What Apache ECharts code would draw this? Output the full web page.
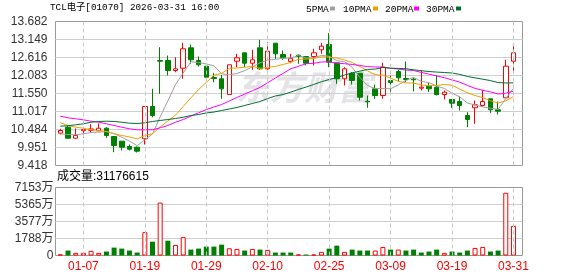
<!DOCTYPE html>
<html><head><meta charset="utf-8">
<script src="https://cdn.jsdelivr.net/npm/echarts@6/dist/echarts.min.js"></script>
<style>html,body{margin:0;padding:0;background:#fff}#c{width:578px;height:276px}</style>
</head><body><div id="c"></div>
<script>
const dates = ['01-02','01-05','01-06','01-07','01-08','01-09','01-12','01-13','01-14','01-15','01-16','01-19','01-20','01-21','01-22','01-23','01-26','01-27','01-28','01-29','01-30','02-02','02-03','02-04','02-05','02-06','02-09','02-10','02-11','02-12','02-13','02-16','02-20','02-23','02-24','02-25','02-26','02-27','03-02','03-03','03-04','03-05','03-06','03-09','03-10','03-11','03-12','03-13','03-16','03-17','03-18','03-19','03-20','03-23','03-24','03-25','03-26','03-27','03-30','03-31'];
const opens = [10.375,10.552,10.226,10.45,10.46,10.446,10.522,10.277,10.138,9.981,9.960,10.209,11.165,12.527,12.527,12.231,12.299,12.903,12.527,12.358,12.024,11.985,11.52,12.507,12.755,12.447,12.903,12.281,13.04,12.705,12.50,12.684,12.646,12.646,12.844,13.001,12.459,11.985,12.151,12.151,11.322,11.689,11.491,11.935,12.202,11.994,11.974,11.707,11.766,11.737,11.52,11.373,11.313,10.899,11.127,11.195,11.393,11.067,11.423,12.507];
const closes = [10.454,10.226,10.306,10.48,10.50,10.522,10.306,10.010,9.960,9.901,9.842,11.165,10.899,12.507,12.231,12.281,12.874,12.548,12.40,12.033,11.994,11.689,12.40,12.607,12.447,12.548,12.281,12.803,12.726,12.607,12.59,12.646,12.447,12.755,12.951,12.477,11.985,12.281,11.935,11.44,11.304,11.491,12.329,11.876,12.015,11.965,11.956,11.737,11.689,11.52,11.589,11.263,11.195,10.78,11.216,11.313,11.067,11.027,12.358,12.755];
const lows = [10.336,10.21,10.209,10.238,10.387,10.434,10.238,9.812,9.862,9.862,9.803,10.040,10.848,11.541,12.083,12.181,11.985,12.43,12.35,12.015,11.885,11.393,11.52,12.33,12.33,12.252,12.252,12.252,12.578,12.548,12.447,12.43,12.379,12.379,12.726,12.33,11.837,11.787,11.817,11.343,11.127,11.393,11.393,11.59,11.914,11.885,11.61,11.639,11.59,11.491,11.373,11.127,11.047,10.552,10.653,11.165,10.967,10.928,11.423,12.151];
const highs = [10.505,10.594,10.514,10.552,10.641,10.662,10.552,10.277,10.138,10.040,9.98,11.165,11.689,12.921,12.675,12.625,13.051,13.001,12.646,12.379,12.16,12.10,12.40,12.726,12.755,12.844,13.14,13.069,13.04,12.823,12.726,12.705,12.646,12.874,13.051,13.336,12.459,12.33,12.181,12.151,11.49,11.817,12.459,12.083,12.252,12.498,12.015,12.231,11.867,12.083,11.639,11.373,11.461,10.996,11.343,11.66,11.393,11.313,12.548,12.971];
const volumes = [1200000,5200000,2800000,2800000,4900000,2800000,4150000,8300000,7250000,5200000,3100000,24550000,14500000,55650000,15550000,11050000,19350000,6200000,7250000,9350000,9350000,11400000,7600000,6900000,5200000,6900000,6200000,5900000,3100000,3100000,3100000,1050000,1050000,1050000,3800000,7250000,10350000,3800000,6200000,5200000,5200000,5200000,9000000,6200000,6200000,5200000,6200000,3100000,4150000,6200000,2800000,4150000,3100000,5200000,7950000,9000000,4150000,5200000,66000000,31176615];
const volUp = [1,0,1,1,1,1,0,0,0,0,0,1,0,1,0,1,1,0,0,0,0,0,1,1,0,1,0,1,0,0,0,1,0,1,1,0,0,1,0,0,0,1,1,0,1,0,0,0,0,0,1,0,0,0,1,1,0,0,1,1];
const ma5 = [10.357,10.336,10.327,10.357,10.393,10.407,10.423,10.363,10.254,10.140,10.004,10.176,10.353,10.863,11.329,11.817,12.158,12.488,12.467,12.427,12.370,12.133,12.103,12.145,12.227,12.338,12.457,12.537,12.561,12.593,12.601,12.674,12.603,12.609,12.678,12.655,12.523,12.490,12.326,12.024,11.789,11.690,11.700,11.688,11.803,11.935,12.028,11.910,11.872,11.773,11.698,11.560,11.451,11.269,11.209,11.153,11.114,11.081,11.396,11.704];
const ma10 = [10.682,10.603,10.552,10.522,10.475,10.454,10.425,10.357,10.306,10.266,10.206,10.300,10.359,10.560,10.734,10.910,11.167,11.421,11.665,11.878,12.093,12.146,12.296,12.306,12.327,12.354,12.295,12.320,12.353,12.410,12.470,12.565,12.570,12.585,12.635,12.628,12.598,12.546,12.467,12.350,12.222,12.107,12.095,12.007,11.913,11.862,11.859,11.805,11.780,11.788,11.817,11.794,11.681,11.571,11.491,11.426,11.337,11.266,11.333,11.456];
const ma20 = [10.878,10.831,10.801,10.771,10.730,10.700,10.653,10.603,10.552,10.505,10.475,10.475,10.475,10.535,10.603,10.700,10.780,10.878,10.979,11.073,11.150,11.223,11.328,11.433,11.531,11.632,11.731,11.871,12.009,12.144,12.281,12.355,12.433,12.445,12.481,12.491,12.446,12.433,12.410,12.380,12.346,12.336,12.332,12.296,12.274,12.245,12.229,12.175,12.124,12.071,12.019,11.950,11.888,11.789,11.702,11.644,11.598,11.535,11.557,11.622];
const ma30 = [10.582,10.594,10.623,10.653,10.700,10.721,10.730,10.721,10.700,10.671,10.662,10.682,10.721,10.751,10.780,10.810,10.848,10.899,10.928,10.973,11.002,11.047,11.091,11.135,11.195,11.254,11.313,11.402,11.476,11.519,11.590,11.671,11.742,11.817,11.899,11.964,12.020,12.096,12.162,12.213,12.263,12.274,12.321,12.300,12.293,12.283,12.252,12.225,12.201,12.184,12.171,12.157,12.116,12.055,12.014,11.973,11.933,11.874,11.861,11.866];
const priceTicks = ['9.418','9.951','10.484','11.017','11.550','12.083','12.616','13.149','13.682'];
const volTicks = ['0','1788万','3577万','5365万','7153万'];
const markDates = ['01-07','01-19','01-29','02-10','02-25','03-09','03-19','03-31'];
const priceMin = 9.418, priceMax = 13.682, volMax = 71530000;
const maNames = ['5PMA','10PMA','20PMA','30PMA'];
const maColors = ['#a0a0a0','#f0a000','#ff00ff','#007030'];
const titleText = 'TCL电子[01070] 2026-03-31 16:00';

const RED = '#ff0000', GREEN = '#008000';
const chart = echarts.init(document.getElementById('c'), null, {renderer:'canvas'});
const frameL = 55.5, frameW = 467, dataL = 56.5, dataW = 460.8;
const pTop = 21.5, pH = 144, vTop = 187.5, vH = 68;
const monoFont = '"Liberation Mono","Noto Sans CJK SC",monospace';
const sansFont = '"Liberation Sans","Noto Sans CJK SC",sans-serif';

const dashLine = {
  silent: true, symbol: ['none','none'], label: {show:false}, animation:false,
  lineStyle: {color:'#c8c8c8', type:[4,3], width:1},
  emphasis: {disabled:true},
  data: markDates.map(d => ({xAxis: d}))
};

const legendGraphics = [];
const legX = [306, 343, 385, 426];
const legIconX = [330, 373, 414, 456];
maNames.forEach((n, k) => {
  legendGraphics.push({type:'text', x:legX[k], y:9, style:{text:n, fill:'#000', font:'9.5px ' + monoFont, verticalAlign:'middle'}});
  legendGraphics.push({type:'rect', shape:{x:legIconX[k], y:6.5, width:5, height:4}, style:{fill:maColors[k]}});
});

const option = {
  animation: false,
  backgroundColor: '#fff',
  title: {text: titleText, left: 50, top: 3, padding: 0,
    textStyle: {fontSize: 9.3, fontWeight: 'normal', color: '#000', fontFamily: monoFont}},
  graphic: [
    {type:'text', x:236, y:70, z:-10, silent:true, style:{text:'东方财富', fill:'#e4e4e8', font:'italic bold 34px "Noto Sans CJK SC"'}},
    {type:'text', x:57, y:177, style:{text:'成交量:' + volumes[volumes.length-1], fill:'#000', font:'12px ' + sansFont, verticalAlign:'middle'}}
  ].concat(legendGraphics),
  grid: [
    {left: frameL, top: pTop, width: frameW, height: pH, show: true, borderColor: '#999', borderWidth: 1, backgroundColor:'transparent'},
    {left: dataL, top: pTop, width: dataW, height: pH},
    {left: frameL, top: vTop, width: frameW, height: vH, show: true, borderColor: '#999', borderWidth: 1, backgroundColor:'transparent'},
    {left: dataL, top: vTop, width: dataW, height: vH}
  ],
  xAxis: [
    {gridIndex:0, type:'value', min:0, max:1, show:false},
    {gridIndex:1, type:'category', data:dates, boundaryGap:true, show:false},
    {gridIndex:2, type:'value', min:0, max:1, show:false},
    {gridIndex:3, type:'category', data:dates, boundaryGap:true,
      axisLine:{show:false}, axisTick:{show:false}, splitLine:{show:false},
      axisLabel:{interval:(i, v) => markDates.indexOf(v) >= 0, color:RED, fontSize:12, margin:5, fontFamily:sansFont}}
  ],
  yAxis: [
    {gridIndex:0, type:'category', data:priceTicks, boundaryGap:false,
      axisLine:{show:false}, axisTick:{show:false},
      axisLabel:{interval:0, color:'#333', fontSize:12, margin:8, fontFamily:sansFont},
      splitLine:{show:true, interval:0, showMinLine:false, showMaxLine:false, lineStyle:{color:'#cfcfcf', width:1}}},
    {gridIndex:1, type:'value', min:priceMin, max:priceMax, show:false, splitLine:{show:false}},
    {gridIndex:2, type:'category', data:volTicks, boundaryGap:false,
      axisLine:{show:false}, axisTick:{show:false},
      axisLabel:{interval:0, color:'#333', fontSize:12, margin:2, fontFamily:sansFont},
      splitLine:{show:true, interval:0, showMinLine:false, showMaxLine:false, lineStyle:{color:'#cfcfcf', width:1}}},
    {gridIndex:3, type:'value', min:0, max:volMax, show:false, splitLine:{show:false}}
  ],
  series: [
    {type:'line', xAxisIndex:1, yAxisIndex:1, data: dates.map(() => null), z:1, showSymbol:false, markLine: dashLine},
    {type:'line', xAxisIndex:3, yAxisIndex:3, data: dates.map(() => null), z:1, showSymbol:false, markLine: dashLine},
    {type:'candlestick', name:'K', xAxisIndex:1, yAxisIndex:1, z:3, barWidth:5,
      data: dates.map((d, i) => [opens[i], closes[i], lows[i], highs[i]]),
      itemStyle:{color:'#ffffff', color0:GREEN, borderColor:RED, borderColor0:GREEN, borderWidth:1}},
    ...[ma5, ma10, ma20, ma30].map((arr, k) => ({
      type:'line', name:maNames[k], xAxisIndex:1, yAxisIndex:1, z:4, data:arr,
      symbol:'none', showSymbol:false, smooth:false,
      lineStyle:{color:maColors[k], width:1}, itemStyle:{color:maColors[k]}
    })),
    {type:'bar', name:'成交量', xAxisIndex:3, yAxisIndex:3, z:3, barWidth:5,
      data: volumes.map((v, i) => ({value:v, itemStyle: volUp[i] ? {color:'#ffffff', borderColor:RED, borderWidth:1} : {color:GREEN, borderWidth:0}}))}
  ]
};
chart.setOption(option);
</script>
</body></html>
